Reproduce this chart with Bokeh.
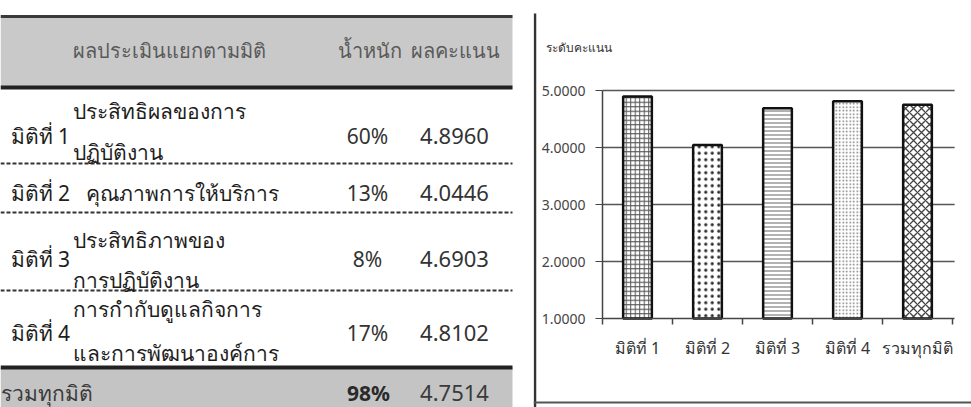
from bokeh.plotting import figure
from bokeh.models import Range1d, FixedTicker, ColumnDataSource, Label, LinearAxis
from bokeh.layouts import row
from bokeh.core.properties import value
from bokeh.embed import file_html
from bokeh.resources import INLINE

# ---------------- data ----------------
header_labels = ["ผลประเมินแยกตามมิติ", "น้ำหนัก", "ผลคะแนน"]
dims = ["มิติที่ 1", "มิติที่ 2", "มิติที่ 3", "มิติที่ 4"]
desc_line1 = ["ประสิทธิผลของการ", "คุณภาพการให้บริการ", "ประสิทธิภาพของ", "การกำกับดูแลกิจการ"]
desc_line2 = ["ปฏิบัติงาน", "", "การปฏิบัติงาน", "และการพัฒนาองค์การ"]
weights = ["60%", "13%", "8%", "17%"]
scores = [4.8960, 4.0446, 4.6903, 4.8102]
total_label = "รวมทุกมิติ"
total_weight = "98%"
total_score = 4.7514

chart_categories = ["มิติที่ 1", "มิติที่ 2", "มิติที่ 3", "มิติที่ 4", "รวมทุกมิติ"]
chart_values = [4.8960, 4.0446, 4.6903, 4.8102, 4.7514]
y_ticks = [1, 2, 3, 4, 5]
chart_ylabel = "ระดับคะแนน"

FONT = value("Noto Sans")

# ---------------- table (pixel-like coordinates) ----------------
TW, TH = 533, 407
t = figure(width=TW, height=TH, x_range=Range1d(0, TW), y_range=Range1d(TH, 0),
           output_backend="svg", toolbar_location=None,
           x_axis_location=None, y_axis_location=None, min_border=0)
t.grid.visible = False
t.outline_line_color = None
t.background_fill_color = "white"
t.border_fill_color = "white"

band_l, band_r = 0, 512
# header band
t.quad(left=[band_l], right=[band_r], top=[15], bottom=[88], fill_color="#c9c9c9", line_color=None)
t.segment(x0=[band_l], x1=[band_r], y0=[16], y1=[16], line_color="#3a3a3a", line_width=3)
t.segment(x0=[band_l], x1=[band_r], y0=[87], y1=[87], line_color="#222222", line_width=4)
# total band
t.quad(left=[band_l], right=[band_r], top=[367], bottom=[TH], fill_color="#c4c4c4", line_color=None)
t.segment(x0=[band_l], x1=[band_r], y0=[367], y1=[367], line_color="#222222", line_width=4)
# dashed separators
sep_y = [163, 212, 290]
t.segment(x0=[band_l] * 3, x1=[band_r] * 3, y0=sep_y, y1=sep_y,
          line_color="#333333", line_width=2, line_dash="4 2")

# header texts
t.text(x=[72, 337, 410], y=[50, 50, 50], text=header_labels, text_font=FONT,
       text_font_size="20px", text_color="#5a5a5a", text_baseline="middle")

# row layout
dim_y = [135, 192, 258, 332]
l1_y = [110, 192, 239, 308]
l2_y = [151, 192, 279, 352]
desc_x = [72, 85, 72, 72]
BODY = "21px"
t.text(x=[10] * 4, y=dim_y, text=dims, text_font=FONT, text_font_size=BODY,
       text_color="#1e1e1e", text_baseline="middle")
t.text(x=desc_x, y=l1_y, text=desc_line1, text_font=FONT, text_font_size=BODY,
       text_color="#1e1e1e", text_baseline="middle")
t.text(x=desc_x, y=l2_y, text=desc_line2, text_font=FONT, text_font_size=BODY,
       text_color="#1e1e1e", text_baseline="middle")
t.text(x=[367] * 4, y=dim_y, text=weights, text_font=FONT, text_font_size=BODY,
       text_color="#333333", text_baseline="middle", text_align="center")
t.text(x=[454] * 4, y=dim_y, text=["%.4f" % s for s in scores], text_font=FONT,
       text_font_size="22px", text_color="#333333", text_baseline="middle", text_align="center")
# total row
t.text(x=[0], y=[392], text=[total_label], text_font=FONT, text_font_size=BODY,
       text_color="#3a3a3a", text_baseline="middle")
t.text(x=[368], y=[392], text=[total_weight], text_font=FONT, text_font_size=BODY,
       text_color="#2a2a2a", text_baseline="middle", text_align="center", text_font_style="bold")
t.text(x=[454], y=[392], text=["%.4f" % total_score], text_font=FONT, text_font_size="22px",
       text_color="#3a3a3a", text_baseline="middle", text_align="center")

# ---------------- chart ----------------
CW, CH = 438, 407
# layout: frame covers full canvas; one category = 70px, one score unit = 57px
ux, uy = 70.0, 57.0
axis_px_x = 69.0        # x=0 boundary from canvas left
y1_px = 318.0           # score 1 from canvas top
x0 = -axis_px_x / ux
x1 = x0 + CW / ux
ytop = 1 + y1_px / uy
ybot = ytop - CH / uy

c = figure(width=CW, height=CH, x_range=Range1d(x0, x1), y_range=Range1d(ybot, ytop),
           output_backend="svg", toolbar_location=None, min_border=0,
           x_axis_location=None, y_axis_location=None)
c.grid.visible = False
c.outline_line_color = None
c.background_fill_color = "white"
c.border_fill_color = "white"

centers = [i + 0.5 for i in range(len(chart_categories))]
src = ColumnDataSource(dict(
    x=centers, top=chart_values, bottom=[1] * 5,
    hatch=["cross", "dot", "horizontal_line", "dot", "diagonal_cross"],
    hscale=[4.5, 6.5, 4, 3.5, 8],
    hweight=[1, 4, 1, 1.4, 1.3],
    hcolor=["#555555", "#2a2a2a", "#666666", "#777777", "#444444"],
))

# grid lines
c.segment(x0=[0] * 4, x1=[5.03] * 4, y0=y_ticks[1:], y1=y_ticks[1:],
          line_color="#555555", line_width=1.3)

c.vbar(x="x", top="top", bottom="bottom", width=0.41, source=src,
       fill_color="white", line_color="#111111", line_width=2.5,
       hatch_pattern="hatch", hatch_scale="hscale", hatch_weight="hweight",
       hatch_color="hcolor")

yax = LinearAxis(fixed_location=0, bounds=(1, 5), ticker=FixedTicker(ticks=y_ticks))
yax.major_label_overrides = {v: "%.4f" % v for v in y_ticks}
yax.axis_line_color = "#444444"
yax.axis_line_width = 1.5
yax.major_tick_out = 7
yax.major_tick_in = 0
yax.minor_tick_line_color = None
yax.major_tick_line_color = "#444444"
yax.major_label_standoff = 10
yax.major_label_text_font = "Noto Sans"
yax.major_label_text_font_size = "14px"
yax.major_label_text_color = "#444444"
c.add_layout(yax, "left")

xax = LinearAxis(fixed_location=1, bounds=(0, 5.03),
                 ticker=FixedTicker(ticks=centers, minor_ticks=list(range(6))))
xax.major_label_overrides = {cx: lab for cx, lab in zip(centers, chart_categories)}
xax.axis_line_color = "#444444"
xax.axis_line_width = 1.5
xax.major_tick_out = 0
xax.major_tick_in = 0
xax.minor_tick_out = 6
xax.minor_tick_in = 0
xax.minor_tick_line_color = "#444444"
xax.minor_tick_line_width = 1.5
xax.major_label_standoff = 12
xax.major_label_text_font = "Noto Sans"
xax.major_label_text_font_size = "16px"
xax.major_label_text_color = "#333333"
c.add_layout(xax, "below")

# chart title
c.add_layout(Label(x=x0 + 12 / ux, y=ytop - 47 / uy, text=chart_ylabel, text_font="Noto Sans",
                   text_font_size="12px", text_color="#333333", text_baseline="middle"))

# chart frame (left and bottom border)
c.segment(x0=[x0 + 1.5 / ux], x1=[x0 + 1.5 / ux], y0=[ybot], y1=[ytop - 13 / uy],
          line_color="#333333", line_width=2.5)
c.segment(x0=[x0], x1=[x1], y0=[ybot + 5 / uy], y1=[ybot + 5 / uy],
          line_color="#555555", line_width=2)

layout = row(t, c, spacing=0)
open("out.html", "w").write(file_html(layout, INLINE))
